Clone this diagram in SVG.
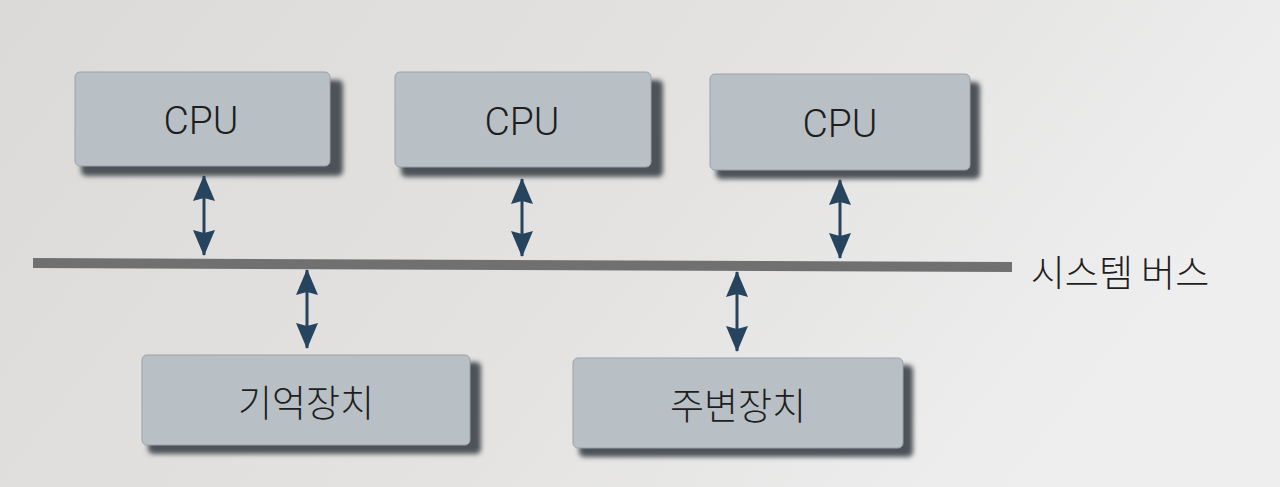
<svg xmlns="http://www.w3.org/2000/svg" width="1280" height="487" viewBox="0 0 1280 487">
<defs>
<linearGradient id="bg" x1="0" y1="0" x2="1" y2="0.3">
<stop offset="0" stop-color="#dcdad8"/>
<stop offset="0.6" stop-color="#e4e3e2"/>
<stop offset="1" stop-color="#eeeeee"/>
</linearGradient>
<filter id="sh" x="-10%" y="-20%" width="130%" height="150%">
<feGaussianBlur stdDeviation="2.5"/>
</filter>
<marker id="a" viewBox="0 0 26 22" refX="25" refY="11" markerWidth="26" markerHeight="22" markerUnits="userSpaceOnUse" orient="auto-start-reverse">
<path d="M0,0 L26,11 L0,22 L3,11 Z" fill="#27445e"/>
</marker>
</defs>
<style>
.box{fill:#b8c0c6;stroke:#9aa2a8;stroke-width:1}
.shadow{fill:#4e5358;filter:url(#sh)}
.lbl{font-family:Roboto,"Liberation Sans",sans-serif;font-weight:300;font-size:39px;fill:#1e1e1e;text-anchor:middle;dominant-baseline:central}
.klbl{font-family:"Noto Sans CJK KR",sans-serif;font-weight:300;font-size:37px;fill:#1e1e1e;text-anchor:middle;dominant-baseline:central}
.conn{stroke:#27445e;stroke-width:3;fill:none;marker-start:url(#a);marker-end:url(#a)}
</style>
<rect width="1280" height="487" fill="url(#bg)"/>
<g id="bus">
<polygon points="33,258 1012,262 1012,272 33,268" fill="#707070"/>
<text x="1120" y="271" class="klbl" font-size="37">시스템 버스</text>
</g>
<g id="cpu1">
<rect class="shadow" x="81" y="80" width="262" height="96" rx="5"/>
<rect class="box" x="75" y="72" width="255" height="94" rx="5"/>
<text x="201" y="121" class="lbl">CPU</text>
</g>
<g id="cpu2">
<rect class="shadow" x="401" y="80" width="262" height="97" rx="5"/>
<rect class="box" x="395" y="72" width="256" height="95" rx="5"/>
<text x="522" y="122" class="lbl">CPU</text>
</g>
<g id="cpu3">
<rect class="shadow" x="716" y="82" width="264" height="97" rx="5"/>
<rect class="box" x="710" y="74" width="260" height="96" rx="5"/>
<text x="840" y="124" class="lbl">CPU</text>
</g>
<g id="memory">
<rect class="shadow" x="148" y="362" width="333" height="92" rx="5"/>
<rect class="box" x="142" y="355" width="328" height="90" rx="5"/>
<text x="306" y="401" class="klbl">기억장치</text>
</g>
<g id="peripheral">
<rect class="shadow" x="579" y="365" width="334" height="92" rx="5"/>
<rect class="box" x="573" y="358" width="330" height="90" rx="5"/>
<text x="738" y="404" class="klbl">주변장치</text>
</g>
<g id="connectors">
<line class="conn" x1="204" y1="176" x2="204" y2="255"/>
<line class="conn" x1="522" y1="179" x2="522" y2="256"/>
<line class="conn" x1="840" y1="180" x2="840" y2="258"/>
<line class="conn" x1="307" y1="270" x2="307" y2="348"/>
<line class="conn" x1="737" y1="272" x2="737" y2="351"/>
</g>
</svg>
